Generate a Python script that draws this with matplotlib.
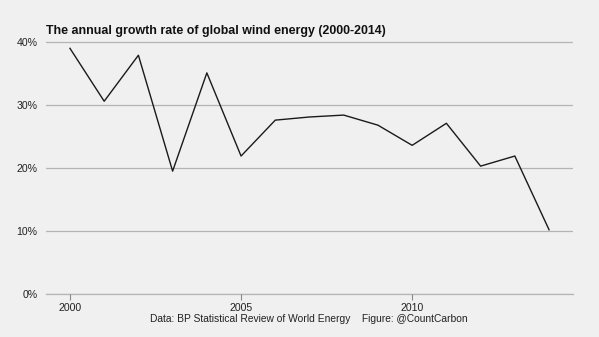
import matplotlib.pyplot as plt
from matplotlib.ticker import FuncFormatter

# ── Data ────────────────────────────────────────────────────────────
years = [2000, 2001, 2002, 2003, 2004, 2005, 2006, 2007,
         2008, 2009, 2010, 2011, 2012, 2013, 2014]
growth = [39.0, 30.6, 37.9, 19.5, 35.1, 21.9, 27.6, 28.1,
          28.4, 26.8, 23.6, 27.1, 20.3, 21.9, 10.2]
y_ticks = [0, 10, 20, 30, 40]
x_ticks = [2000, 2005, 2010]

title = "The annual growth rate of global wind energy (2000-2014)"
caption = "Data: BP Statistical Review of World Energy    Figure: @CountCarbon"

plt.rcParams['font.family'] = ['Liberation Sans', 'DejaVu Sans']
bg = "#f0f0f0"

fig = plt.figure(figsize=(5.99, 3.37), dpi=100, facecolor=bg)
ax = fig.add_axes([0.0768, 0.1276, 0.8798, 0.7664], facecolor=bg)

ax.plot(years, growth, color="#1a1a1a", linewidth=1.0)

ax.set_xlim(1999.3, 2014.7)
ax.set_ylim(0, 41)
ax.set_yticks(y_ticks)
ax.set_xticks(x_ticks)
ax.yaxis.set_major_formatter(FuncFormatter(lambda v, _: f"{v:.0f}%"))
ax.grid(axis="y", color="#b4b4b4", linewidth=0.9)
ax.set_axisbelow(True)
for s in ax.spines.values():
    s.set_visible(False)
ax.tick_params(axis="y", length=0, pad=6, labelsize=7.6, labelcolor="#222222")
ax.tick_params(axis="x", length=4, width=0.8, color="#888888",
               pad=2.5, labelsize=7.6, labelcolor="#222222")
# baseline at 0% (unclipped so it is as strong as the other grid lines)
ax.axhline(0, color="#b4b4b4", linewidth=0.9, zorder=0, clip_on=False)

fig.text(46 / 599, 1 - 31 / 337, title, fontsize=8.9, fontweight="bold",
         ha="left", va="center", color="#111111")
fig.text(309 / 599, 1 - 319 / 337, caption, fontsize=7.4,
         ha="center", va="center", color="#222222")

fig.savefig("out.png", dpi=100, facecolor=bg)
